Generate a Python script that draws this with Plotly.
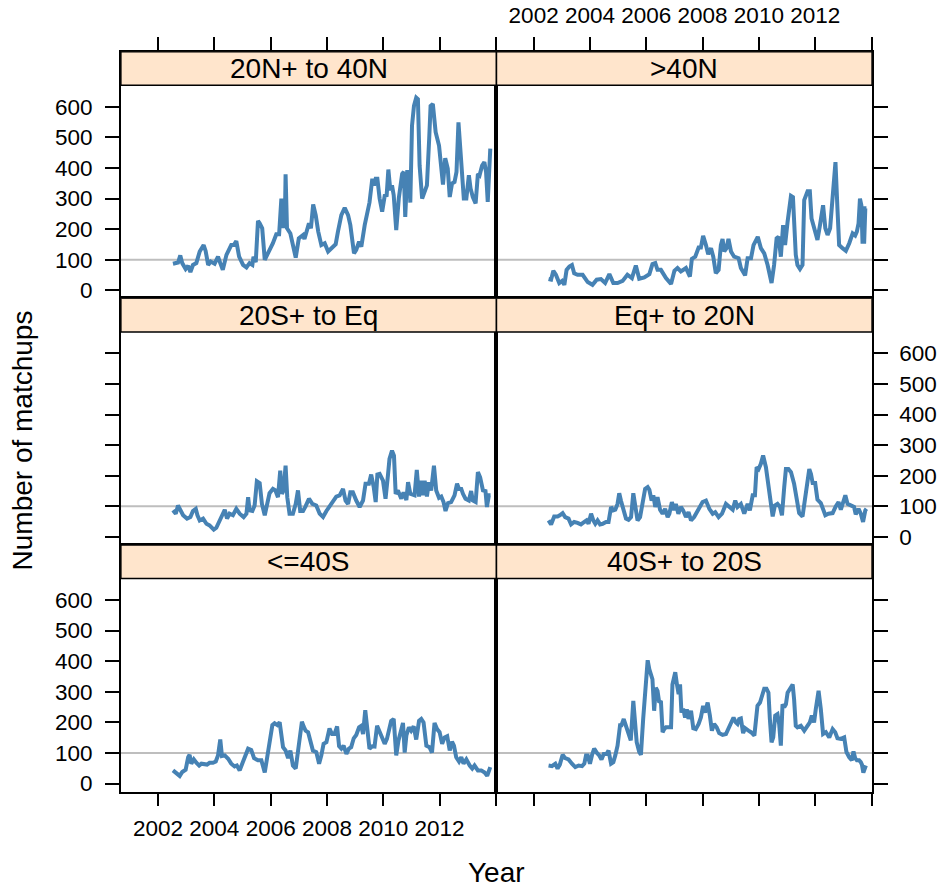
import plotly.graph_objects as go

# ---------------- data ----------------
panel_titles = ["20N+ to 40N", ">40N", "20S+ to Eq", "Eq+ to 20N", "<=40S", "40S+ to 20S"]

years_20N_40N = [2002.53, 2002.71, 2002.79, 2002.86, 2002.98, 2003.07, 2003.15, 2003.24, 2003.36, 2003.48, 2003.62, 2003.69, 2003.78, 2003.87, 2004.01, 2004.13, 2004.21, 2004.30, 2004.43, 2004.60, 2004.69, 2004.78, 2004.88, 2005.02, 2005.14, 2005.25, 2005.35, 2005.39, 2005.47, 2005.55, 2005.61, 2005.70, 2005.79, 2005.91, 2006.08, 2006.20, 2006.30, 2006.38, 2006.41, 2006.46, 2006.50, 2006.53, 2006.58, 2006.70, 2006.79, 2006.89, 2007.00, 2007.15, 2007.20, 2007.27, 2007.36, 2007.43, 2007.51, 2007.60, 2007.69, 2007.80, 2007.92, 2008.04, 2008.19, 2008.31, 2008.39, 2008.51, 2008.63, 2008.75, 2008.83, 2008.96, 2009.04, 2009.14, 2009.22, 2009.34, 2009.51, 2009.61, 2009.67, 2009.73, 2009.79, 2009.87, 2009.96, 2010.05, 2010.12, 2010.18, 2010.25, 2010.31, 2010.37, 2010.46, 2010.55, 2010.67, 2010.73, 2010.78, 2010.85, 2010.91, 2010.96, 2011.02, 2011.09, 2011.17, 2011.23, 2011.29, 2011.38, 2011.47, 2011.55, 2011.63, 2011.68, 2011.76, 2011.86, 2011.98, 2012.12, 2012.20, 2012.29, 2012.36, 2012.44, 2012.53, 2012.60, 2012.67, 2012.77, 2012.86, 2012.95, 2013.04, 2013.10, 2013.18, 2013.28, 2013.36, 2013.42, 2013.51, 2013.59, 2013.65, 2013.71, 2013.80]
counts_20N_40N = [87, 91, 114, 89, 70, 80, 60, 83, 89, 127, 148, 129, 83, 94, 87, 110, 89, 67, 116, 148, 148, 161, 110, 83, 75, 89, 83, 110, 92, 227, 219, 203, 100, 121, 154, 183, 183, 300, 203, 295, 203, 379, 203, 186, 148, 107, 170, 181, 168, 192, 219, 203, 281, 246, 192, 148, 154, 127, 140, 151, 192, 246, 270, 246, 213, 121, 132, 159, 143, 213, 287, 365, 343, 365, 365, 300, 257, 309, 311, 395, 327, 343, 311, 197, 300, 381, 387, 240, 387, 387, 287, 538, 603, 630, 625, 408, 300, 322, 343, 495, 603, 609, 517, 473, 346, 432, 398, 305, 349, 354, 387, 549, 430, 300, 300, 376, 333, 305, 284, 381, 376, 408, 419, 387, 289, 463]

years_40N = [2002.53, 2002.62, 2002.70, 2002.79, 2002.91, 2003.01, 2003.09, 2003.17, 2003.27, 2003.36, 2003.44, 2003.56, 2003.74, 2003.92, 2004.09, 2004.24, 2004.39, 2004.54, 2004.69, 2004.83, 2004.98, 2005.16, 2005.33, 2005.49, 2005.63, 2005.75, 2005.93, 2006.11, 2006.22, 2006.32, 2006.40, 2006.52, 2006.70, 2006.88, 2007.00, 2007.11, 2007.23, 2007.41, 2007.55, 2007.62, 2007.74, 2007.86, 2007.94, 2008.02, 2008.12, 2008.20, 2008.30, 2008.38, 2008.47, 2008.57, 2008.65, 2008.71, 2008.77, 2008.85, 2008.92, 2009.01, 2009.12, 2009.28, 2009.36, 2009.51, 2009.60, 2009.72, 2009.81, 2009.96, 2010.07, 2010.19, 2010.31, 2010.45, 2010.54, 2010.63, 2010.70, 2010.78, 2010.86, 2010.93, 2011.02, 2011.14, 2011.21, 2011.31, 2011.37, 2011.46, 2011.55, 2011.61, 2011.73, 2011.81, 2011.87, 2012.00, 2012.08, 2012.17, 2012.28, 2012.36, 2012.44, 2012.53, 2012.62, 2012.72, 2012.79, 2012.85, 2012.97, 2013.09, 2013.21, 2013.33, 2013.42, 2013.48, 2013.54, 2013.59, 2013.64, 2013.68, 2013.74, 2013.78, 2013.82]
counts_40N = [37, 35, 64, 51, 24, 31, 18, 67, 78, 83, 56, 51, 51, 27, 18, 35, 37, 24, 53, 24, 24, 31, 51, 40, 81, 38, 42, 53, 86, 89, 67, 67, 40, 21, 64, 73, 62, 73, 45, 103, 110, 140, 140, 178, 148, 118, 138, 110, 56, 67, 148, 168, 127, 138, 168, 127, 110, 105, 73, 49, 105, 105, 148, 175, 138, 121, 83, 24, 83, 170, 175, 110, 213, 148, 224, 309, 305, 116, 83, 70, 83, 295, 324, 324, 235, 186, 165, 213, 278, 203, 181, 203, 300, 419, 268, 148, 138, 129, 154, 186, 179, 192, 219, 300, 278, 159, 159, 268, 268]

years_20S_Eq = [2002.53, 2002.63, 2002.71, 2002.79, 2002.89, 2003.03, 2003.15, 2003.24, 2003.34, 2003.40, 2003.48, 2003.60, 2003.72, 2003.83, 2003.98, 2004.07, 2004.19, 2004.28, 2004.37, 2004.45, 2004.54, 2004.66, 2004.78, 2004.90, 2005.04, 2005.14, 2005.20, 2005.25, 2005.35, 2005.43, 2005.51, 2005.61, 2005.69, 2005.79, 2005.85, 2005.96, 2006.08, 2006.17, 2006.26, 2006.34, 2006.40, 2006.46, 2006.53, 2006.59, 2006.67, 2006.79, 2006.89, 2006.97, 2007.05, 2007.15, 2007.24, 2007.36, 2007.48, 2007.62, 2007.74, 2007.86, 2007.98, 2008.09, 2008.21, 2008.33, 2008.45, 2008.57, 2008.66, 2008.75, 2008.83, 2008.92, 2009.04, 2009.16, 2009.28, 2009.37, 2009.49, 2009.57, 2009.66, 2009.73, 2009.79, 2009.87, 2009.99, 2010.08, 2010.17, 2010.22, 2010.31, 2010.38, 2010.44, 2010.52, 2010.64, 2010.72, 2010.82, 2010.88, 2010.96, 2011.05, 2011.11, 2011.19, 2011.27, 2011.35, 2011.41, 2011.47, 2011.55, 2011.62, 2011.70, 2011.80, 2011.88, 2011.98, 2012.06, 2012.14, 2012.21, 2012.30, 2012.41, 2012.53, 2012.62, 2012.69, 2012.77, 2012.83, 2012.92, 2013.04, 2013.12, 2013.18, 2013.28, 2013.36, 2013.44, 2013.54, 2013.63, 2013.68, 2013.75, 2013.81]
counts_20S_Eq = [87, 76, 103, 89, 71, 60, 65, 85, 92, 71, 54, 60, 43, 38, 24, 30, 54, 65, 89, 60, 76, 71, 92, 76, 65, 76, 130, 87, 85, 103, 182, 176, 108, 71, 103, 143, 157, 152, 130, 217, 141, 152, 233, 130, 76, 76, 108, 152, 85, 85, 100, 125, 108, 103, 76, 65, 85, 100, 119, 132, 136, 157, 119, 108, 146, 146, 119, 98, 119, 174, 174, 204, 163, 114, 204, 206, 184, 125, 206, 255, 282, 266, 141, 152, 125, 146, 121, 179, 141, 136, 136, 219, 132, 184, 136, 184, 132, 179, 152, 233, 152, 128, 132, 114, 85, 111, 114, 136, 174, 157, 157, 141, 125, 119, 150, 119, 114, 212, 195, 152, 150, 98, 136, 136]

years_Eq_20N = [2002.53, 2002.62, 2002.73, 2002.85, 2002.93, 2003.03, 2003.12, 2003.24, 2003.33, 2003.44, 2003.56, 2003.68, 2003.80, 2003.88, 2003.95, 2004.04, 2004.12, 2004.19, 2004.27, 2004.36, 2004.45, 2004.57, 2004.66, 2004.75, 2004.83, 2004.90, 2004.98, 2005.04, 2005.10, 2005.18, 2005.28, 2005.37, 2005.46, 2005.54, 2005.61, 2005.69, 2005.78, 2005.87, 2005.96, 2006.05, 2006.11, 2006.19, 2006.25, 2006.32, 2006.40, 2006.49, 2006.58, 2006.67, 2006.76, 2006.82, 2006.91, 2006.99, 2007.05, 2007.14, 2007.23, 2007.31, 2007.41, 2007.50, 2007.59, 2007.70, 2007.82, 2008.00, 2008.12, 2008.24, 2008.36, 2008.45, 2008.57, 2008.69, 2008.83, 2008.95, 2009.07, 2009.16, 2009.24, 2009.36, 2009.48, 2009.60, 2009.68, 2009.78, 2009.86, 2009.92, 2009.99, 2010.07, 2010.15, 2010.25, 2010.34, 2010.43, 2010.49, 2010.57, 2010.66, 2010.75, 2010.82, 2010.90, 2010.96, 2011.05, 2011.14, 2011.25, 2011.34, 2011.43, 2011.55, 2011.63, 2011.73, 2011.79, 2011.85, 2011.91, 2012.00, 2012.08, 2012.20, 2012.28, 2012.36, 2012.47, 2012.62, 2012.73, 2012.83, 2012.91, 2012.97, 2013.07, 2013.15, 2013.27, 2013.38, 2013.44, 2013.54, 2013.62, 2013.70, 2013.78, 2013.82]
counts_Eq_20N = [54, 41, 67, 67, 71, 78, 65, 60, 41, 49, 46, 41, 49, 54, 43, 76, 54, 43, 54, 41, 43, 49, 49, 98, 87, 89, 108, 143, 119, 89, 60, 56, 65, 143, 108, 54, 65, 108, 157, 163, 154, 119, 136, 98, 130, 89, 76, 92, 65, 76, 114, 87, 108, 76, 98, 87, 65, 81, 54, 65, 87, 114, 119, 92, 76, 81, 65, 76, 108, 98, 89, 119, 98, 108, 76, 108, 87, 136, 136, 228, 222, 239, 266, 228, 163, 87, 67, 103, 108, 98, 71, 163, 222, 222, 212, 174, 119, 78, 67, 119, 184, 222, 206, 176, 176, 122, 111, 92, 71, 76, 78, 100, 114, 89, 111, 136, 108, 103, 98, 74, 92, 76, 49, 87, 92]

years_40S = [2002.53, 2002.65, 2002.77, 2002.86, 2002.98, 2003.07, 2003.12, 2003.18, 2003.27, 2003.36, 2003.46, 2003.54, 2003.66, 2003.74, 2003.83, 2003.95, 2004.05, 2004.13, 2004.21, 2004.27, 2004.37, 2004.49, 2004.60, 2004.72, 2004.80, 2004.90, 2004.99, 2005.11, 2005.20, 2005.31, 2005.41, 2005.55, 2005.67, 2005.79, 2005.85, 2005.91, 2005.99, 2006.06, 2006.14, 2006.24, 2006.32, 2006.38, 2006.44, 2006.53, 2006.62, 2006.70, 2006.79, 2006.89, 2006.97, 2007.03, 2007.11, 2007.17, 2007.24, 2007.33, 2007.41, 2007.50, 2007.62, 2007.72, 2007.80, 2007.88, 2007.98, 2008.09, 2008.18, 2008.27, 2008.36, 2008.43, 2008.51, 2008.59, 2008.69, 2008.78, 2008.86, 2008.95, 2009.04, 2009.14, 2009.22, 2009.28, 2009.36, 2009.43, 2009.51, 2009.61, 2009.69, 2009.78, 2009.87, 2009.96, 2010.05, 2010.13, 2010.20, 2010.28, 2010.37, 2010.46, 2010.54, 2010.62, 2010.70, 2010.76, 2010.82, 2010.91, 2010.99, 2011.08, 2011.17, 2011.27, 2011.35, 2011.43, 2011.53, 2011.64, 2011.73, 2011.82, 2011.91, 2012.00, 2012.09, 2012.18, 2012.27, 2012.36, 2012.44, 2012.51, 2012.59, 2012.69, 2012.77, 2012.85, 2012.95, 2013.07, 2013.16, 2013.24, 2013.36, 2013.48, 2013.60, 2013.69, 2013.75, 2013.80]
counts_40S = [43, 35, 25, 38, 45, 86, 94, 65, 79, 68, 59, 65, 65, 62, 68, 68, 72, 92, 144, 90, 92, 81, 65, 56, 59, 43, 65, 97, 114, 110, 83, 76, 76, 36, 70, 97, 162, 191, 197, 191, 200, 157, 119, 108, 83, 108, 59, 49, 114, 137, 202, 187, 173, 168, 135, 108, 103, 65, 92, 130, 135, 180, 162, 162, 187, 122, 114, 124, 97, 114, 119, 148, 159, 184, 189, 162, 240, 184, 114, 122, 121, 189, 168, 146, 130, 146, 178, 205, 211, 92, 141, 173, 198, 101, 157, 184, 173, 187, 144, 205, 211, 200, 124, 119, 101, 198, 178, 168, 130, 151, 155, 108, 137, 124, 86, 72, 86, 65, 79, 59, 49, 59, 43, 43, 36, 25, 43, 54]

years_40S_20S = [2002.53, 2002.65, 2002.77, 2002.85, 2002.93, 2003.03, 2003.12, 2003.24, 2003.36, 2003.48, 2003.60, 2003.72, 2003.80, 2003.86, 2003.92, 2004.00, 2004.07, 2004.15, 2004.24, 2004.33, 2004.41, 2004.49, 2004.59, 2004.66, 2004.75, 2004.83, 2004.90, 2004.98, 2005.07, 2005.12, 2005.20, 2005.28, 2005.37, 2005.45, 2005.54, 2005.60, 2005.66, 2005.75, 2005.81, 2005.89, 2005.96, 2006.05, 2006.11, 2006.17, 2006.22, 2006.28, 2006.34, 2006.40, 2006.46, 2006.52, 2006.58, 2006.64, 2006.70, 2006.79, 2006.88, 2006.93, 2007.03, 2007.09, 2007.15, 2007.20, 2007.25, 2007.31, 2007.38, 2007.44, 2007.50, 2007.59, 2007.67, 2007.76, 2007.86, 2007.94, 2008.02, 2008.09, 2008.18, 2008.26, 2008.33, 2008.41, 2008.50, 2008.59, 2008.71, 2008.83, 2008.95, 2009.10, 2009.18, 2009.24, 2009.30, 2009.36, 2009.44, 2009.51, 2009.63, 2009.72, 2009.84, 2009.89, 2009.95, 2010.04, 2010.11, 2010.19, 2010.27, 2010.34, 2010.39, 2010.45, 2010.51, 2010.58, 2010.66, 2010.72, 2010.78, 2010.84, 2010.90, 2010.96, 2011.02, 2011.11, 2011.20, 2011.25, 2011.31, 2011.37, 2011.49, 2011.61, 2011.73, 2011.81, 2011.88, 2011.96, 2012.02, 2012.12, 2012.20, 2012.28, 2012.38, 2012.50, 2012.62, 2012.71, 2012.79, 2012.91, 2013.03, 2013.11, 2013.21, 2013.30, 2013.36, 2013.42, 2013.48, 2013.56, 2013.62, 2013.66, 2013.71, 2013.75, 2013.80]
counts_40S_20S = [59, 57, 65, 49, 62, 94, 83, 79, 65, 54, 59, 57, 65, 92, 92, 65, 92, 114, 101, 92, 79, 97, 97, 108, 65, 70, 92, 124, 191, 191, 211, 189, 173, 141, 270, 200, 135, 103, 94, 211, 308, 403, 373, 351, 341, 238, 313, 303, 265, 270, 168, 178, 184, 184, 184, 324, 364, 324, 292, 324, 232, 245, 216, 243, 211, 238, 181, 178, 195, 216, 254, 232, 265, 222, 173, 195, 184, 165, 159, 162, 184, 216, 200, 195, 211, 213, 165, 181, 173, 168, 157, 195, 254, 265, 289, 310, 310, 297, 211, 135, 151, 222, 227, 195, 124, 259, 249, 259, 297, 313, 324, 276, 189, 184, 189, 173, 189, 200, 222, 200, 243, 303, 243, 162, 168, 151, 178, 168, 148, 146, 151, 103, 86, 76, 105, 83, 76, 76, 70, 62, 36, 49, 59]

reference_level = 100
x_tick_values = [2002, 2004, 2006, 2008, 2010, 2012, 2014]
x_tick_labels = ["2002", "2004", "2006", "2008", "2010", "2012", ""]
y_tick_values = [0, 100, 200, 300, 400, 500, 600]
y_tick_labels = ["0", "100", "200", "300", "400", "500", "600"]

series = [
    (years_20N_40N, counts_20N_40N),
    (years_40N, counts_40N),
    (years_20S_Eq, counts_20S_Eq),
    (years_Eq_20N, counts_Eq_20N),
    (years_40S, counts_40S),
    (years_40S_20S, counts_40S_20S),
]
for xs, ys in series:
    assert len(xs) == len(ys), (len(xs), len(ys))

# ---------------- layout geometry ----------------
W, H = 937, 889
col_px = [(121, 497), (497, 873)]
row_px = [(52, 300), (300, 548), (548, 796)]
X_RANGE = [2000.68, 2014.02]
Y_RANGE = [-26, 780]
STRIP_BOTTOM = 670

FONT = "Liberation Sans, Arial, Helvetica, sans-serif"
LINE_COLOR = "#4682B4"
STRIP_FILL = "#FFE5CC"
LW = 1.5
TICK_SIZE = 22.5

fig = go.Figure()
layout = dict(
    width=W, height=H,
    margin=dict(l=0, r=0, t=0, b=0),
    paper_bgcolor="white", plot_bgcolor="white",
    showlegend=False,
    font=dict(family=FONT, color="black"),
)
shapes = []
annotations = []

for i, (xs, ys) in enumerate(series):
    r, c = divmod(i, 2)
    n = i + 1
    xa = "xaxis" if n == 1 else f"xaxis{n}"
    ya = "yaxis" if n == 1 else f"yaxis{n}"
    xref = "x" if n == 1 else f"x{n}"
    yref = "y" if n == 1 else f"y{n}"

    fig.add_trace(go.Scatter(
        x=xs, y=ys, mode="lines", xaxis=xref, yaxis=yref,
        line=dict(color=LINE_COLOR, width=4), hoverinfo="skip",
    ))

    x0, x1 = col_px[c]
    top, bot = row_px[r]

    # x axis
    xax = dict(
        domain=[x0 / W, x1 / W], range=X_RANGE, anchor=yref,
        showgrid=False, zeroline=False, showline=True, linecolor="black",
        linewidth=LW, mirror=True, tickvals=x_tick_values, ticktext=x_tick_labels,
        tickfont=dict(size=TICK_SIZE, family=FONT, color="black"),
        tickcolor="black", tickwidth=LW, ticklen=13, fixedrange=True,
    )
    if r == 0:
        xax.update(side="top", ticks="outside", showticklabels=(c == 1), ticklabelstandoff=5)
    elif r == 2:
        xax.update(side="bottom", ticks="outside", showticklabels=(c == 0), ticklabelstandoff=3)
    else:
        xax.update(ticks="", showticklabels=False)
    layout[xa] = xax

    # y axis
    yax = dict(
        domain=[1 - bot / H, 1 - top / H], range=Y_RANGE, anchor=xref,
        showgrid=False, zeroline=False, showline=True, linecolor="black",
        linewidth=LW, mirror=True, tickvals=y_tick_values, ticktext=y_tick_labels,
        tickfont=dict(size=TICK_SIZE, family=FONT, color="black"),
        tickcolor="black", tickwidth=LW, ticklen=14, ticks="outside", fixedrange=True,
    )
    if c == 0:
        yax.update(side="left", showticklabels=(r != 1), ticklabelstandoff=8)
    else:
        yax.update(side="right", showticklabels=(r == 1), ticklabelstandoff=7)
    layout[ya] = yax

    # reference line
    shapes.append(dict(
        type="line", xref=f"{xref} domain", yref=yref, x0=0, x1=1,
        y0=reference_level, y1=reference_level,
        line=dict(color="#BEBEBE", width=2), layer="below",
    ))
    # strip
    shapes.append(dict(
        type="rect", xref=f"{xref} domain", yref=yref, x0=0, x1=1,
        y0=STRIP_BOTTOM, y1=Y_RANGE[1], fillcolor=STRIP_FILL,
        line=dict(color="black", width=LW), layer="above",
    ))
    annotations.append(dict(
        text=panel_titles[i], xref=f"{xref} domain", yref=yref,
        x=0.5, y=(STRIP_BOTTOM + Y_RANGE[1]) / 2, showarrow=False,
        xanchor="center", yanchor="middle",
        font=dict(size=28, family=FONT, color="black"),
    ))

annotations.append(dict(
    text="Year", xref="paper", yref="paper", x=497 / W, y=1 - 877 / H,
    showarrow=False, xanchor="center", yanchor="middle",
    font=dict(size=28, family=FONT, color="black"),
))
annotations.append(dict(
    text="Number of matchups", xref="paper", yref="paper", x=23 / W, y=1 - 443 / H,
    showarrow=False, xanchor="center", yanchor="middle", textangle=-90,
    font=dict(size=28, family=FONT, color="black"),
))

layout["shapes"] = shapes
layout["annotations"] = annotations
fig.update_layout(**layout)
fig.write_html("out.html")
